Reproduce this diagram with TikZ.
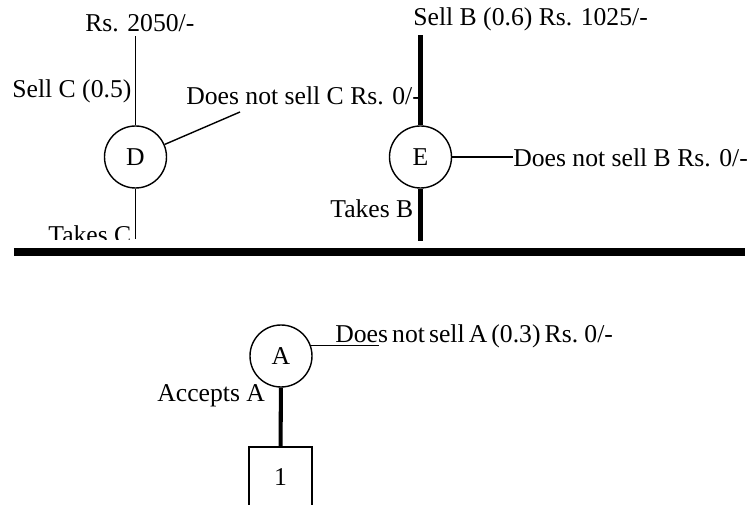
\documentclass[tikz,border=0pt]{standalone}
\usepackage{fontspec}
\setmainfont{Liberation Serif}
\newcommand{\treefont}{\fontsize{14.6}{17}\selectfont}
\tikzset{
  chance/.style={circle, draw, line width=0.8pt, minimum size=1.24cm,
    inner sep=0pt, font=\treefont},
  decbox/.style={rectangle, draw, line width=0.8pt, minimum width=1.26cm,
    minimum height=1.2cm, inner sep=0pt, font=\treefont},
  branch/.style={line width=0.8pt},
  mainbranch/.style={line width=2.3pt},
  bar/.style={line width=5pt},
  lbl/.style={anchor=base west, inner sep=0pt, font=\treefont}
}
\begin{document}
\begin{tikzpicture}
  \clip (0,0) rectangle (15,10.1);
  \node[chance] (D) at (2.71,6.96) {D};
  \node[chance] (E) at (8.41,6.96) {E};
  \node[chance] (A) at (5.62,2.98) {A};
  \node[decbox] (n1) at (5.61,0.56) {1};
  \coordinate (dtop) at (2.71,9.38);
  \coordinate (dbot) at (2.71,5.32);
  \coordinate (dside) at (4.80,7.86);
  \coordinate (etop) at (8.41,9.40);
  \coordinate (ebot) at (8.41,5.28);
  \coordinate (eside) at (10.26,6.96);
  \coordinate (aside) at (7.58,3.18);
  \coordinate (barl) at (0.28,5.06);
  \coordinate (barr) at (14.90,5.06);
  \draw[bar] (barl) -- (barr);
  \draw[branch] (D) -- (dtop);
  \draw[branch] (D) -- (dbot);
  \draw[branch] (D) -- (dside);
  \draw[mainbranch] (E) -- (etop);
  \draw[mainbranch] (E) -- (ebot);
  \draw[branch] (E) -- (eside);
  \draw[branch] (A.19) -- (A.19 -| aside);
  \draw[mainbranch] (A) -- (n1);
  \node[lbl] (rsD) at (1.70,9.46) {Rs. 2050/-};
  \node[lbl] (sellC) at (0.24,8.14) {Sell C (0.5)};
  \node[lbl] (nosellC) at (3.72,8.00) {Does not sell C Rs. 0/-};
  \begin{scope}
    \clip (0,5.30) rectangle (3,6);
    \node[lbl] (takesC) at (0.96,5.22) {Takes C};
  \end{scope}
  \node[lbl] (sellB) at (8.26,9.58) {Sell B (0.6) Rs. 1025/-};
  \node[lbl] (nosellB) at (10.26,6.76) {Does not sell B Rs. 0/-};
  \node[lbl] (takesB) at (6.60,5.74) {Takes B};
  \node[lbl] (nosellA) at (6.70,3.24) {\spaceskip=0.16em Does not sell A (0.3) Rs. 0/-};
  \node[lbl] (acceptsA) at (3.14,2.06) {Accepts A};
\end{tikzpicture}
\end{document}
